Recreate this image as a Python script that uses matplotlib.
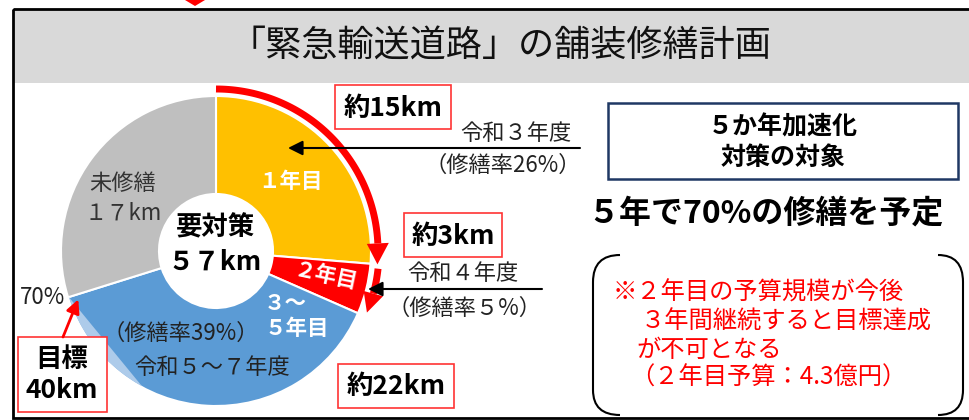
import numpy as np
import matplotlib.pyplot as plt
from matplotlib.patches import Rectangle, Polygon, PathPatch
from matplotlib.path import Path

plt.rcParams['font.family'] = ['Noto Sans CJK JP', 'DejaVu Sans']

# 緊急輸送道路 要対策区間の内訳 (km)
segments = ['１年目', '２年目', '３～\n５年目', '未修繕']
lengths = [15, 3, 22, 17]
colors = ['#FFC000', '#FF0000', '#5B9BD5', '#BFBFBF']
approx_labels = ['約15km', '約3km', '約22km']
year_labels = ['令和３年度', '令和４年度', '令和５～７年度']
rate_labels = ['（修繕率26%）', '（修繕率５%）', '（修繕率39%）']
rest_label = '未修繕\n１７km'
total_label = '要対策\n５７km'
target_rate = '70%'
target_label = '目標\n40km'
title = '「緊急輸送道路」の舗装修繕計画'
box_label = '５か年加速化\n対策の対象'
plan_label = '５年で70%の修繕を予定'
note_lines = ['※２年目の予算規模が今後', '３年間継続すると目標達成', 'が不可となる', '（２年目予算：4.3億円）']

fig = plt.figure(figsize=(9.69, 4.2), dpi=100)
ax = fig.add_axes([0, 0, 1, 1])

# 枠とタイトル帯
ax.add_patch(Rectangle((14, 10), 960, 73, fc='#D9D9D9', ec='none'))
ax.add_patch(Rectangle((13, 8.5), 1000, 409.5, fc='none', ec='black', lw=2))
ax.text(500, 46, title, ha='center', va='center', fontsize=26, color='#111111')
ax.add_patch(Polygon([(185, 0), (205, 0), (195, 6)], closed=True, fc='red', ec='none'))

# ドーナツ
cx, cy = 216, 251
R, r_in = 155, 57
ax.pie(lengths, colors=colors, radius=R, center=(cx, cy), startangle=-90,
       counterclock=True,
       wedgeprops=dict(width=R - r_in, edgecolor='white', linewidth=1.5))

total = sum(lengths)
cum = np.cumsum(lengths)
ends = 90 - 360 * cum / total   # 各区間の終端角度（画面上、度）


def pt(r, a):
    t = np.radians(a)
    return cx + r * np.cos(t), cy - r * np.sin(t)


def arc(r, a0, a1, n=80):
    t = np.radians(np.linspace(a0, a1, n))
    return cx + r * np.cos(t), cy - r * np.sin(t)


# 目標ライン付近の淡色部
a0, a1 = ends[2], ends[2] + 44
xs, ys = arc(R - 0.8, a0, a1)
ax.add_patch(Polygon(np.column_stack([xs, ys]), closed=True, fc='#ADCBEA', ec='none'))


def red_arc(r, a_start, a_tip, head_len=21, half_w=11, lw=5):
    da = np.degrees(head_len / r)
    xs, ys = arc(r, a_start, a_tip + da)
    ax.plot(xs, ys, color='red', lw=lw, solid_capstyle='butt')
    p1 = pt(r - half_w, a_tip + da)
    p2 = pt(r + half_w, a_tip + da)
    p3 = pt(r, a_tip)
    ax.add_patch(Polygon([p1, p2, p3], closed=True, fc='red', ec='none'))


red_arc(162, 90, ends[0])
red_arc(163, ends[0] - 1.5, ends[1] + 1.5, head_len=20, half_w=10)

# ドーナツ内ラベル
ax.text(290, 182, segments[0], ha='center', va='center', fontsize=15.5,
        color='white', fontweight='bold')
ax.text(326, 276, segments[1], ha='center', va='center', fontsize=15.5,
        color='white', fontweight='bold', rotation=-12)
ax.text(264, 316, segments[2], ha='left', va='center', fontsize=15.5,
        color='white', fontweight='bold', linespacing=1.25)
ax.text(123, 198, rest_label, ha='center', va='center', fontsize=16,
        color='#333333', linespacing=1.35)
ax.text(215, 245, total_label, ha='center', va='center', fontsize=19,
        color='black', fontweight='bold', linespacing=1.3)
ax.text(181, 333, rate_labels[2], ha='center', va='center', fontsize=16, color='#222222')
ax.text(212, 368, year_labels[2], ha='center', va='center', fontsize=16, color='#222222')

# 概数ラベル（赤枠）
for (x0, y0, w, h), s in zip([(335, 85, 116, 44), (404, 213, 98, 44), (338, 364, 116, 44)],
                             approx_labels):
    ax.add_patch(Rectangle((x0, y0), w, h, fc='white', ec='#FF3333', lw=1.2))
    ax.text(x0 + w / 2, y0 + h / 2 + 1, s, ha='center', va='center', fontsize=19,
            fontweight='bold', color='black')

# 年度・修繕率と指示線
ax.text(516, 133, year_labels[0], ha='center', va='center', fontsize=16, color='#222222')
ax.text(503, 165, rate_labels[0], ha='center', va='center', fontsize=16, color='#222222')
ax.annotate('', xy=(288, 148), xytext=(580, 148),
            arrowprops=dict(arrowstyle='-|>', color='black', lw=1.5,
                            mutation_scale=22, shrinkA=0, shrinkB=0))
ax.text(463, 274, year_labels[1], ha='center', va='center', fontsize=16, color='#222222')
ax.text(465, 308, rate_labels[1], ha='center', va='center', fontsize=16, color='#222222')
ax.annotate('', xy=(368, 289), xytext=(542, 289),
            arrowprops=dict(arrowstyle='-|>', color='black', lw=1.5,
                            mutation_scale=22, shrinkA=0, shrinkB=0))

# 目標
ax.text(43, 298, target_rate, ha='center', va='center', fontsize=16, color='#222222')
ax.add_patch(Rectangle((18, 337), 89, 75, fc='white', ec='#FF3333', lw=1.2))
ax.text(62, 375, target_label, ha='center', va='center', fontsize=19,
        fontweight='bold', color='black', linespacing=1.2)
ax.annotate('', xy=pt(R - 9, ends[2] + 2), xytext=(63, 337),
            arrowprops=dict(arrowstyle='-|>', color='red', lw=2,
                            mutation_scale=20, shrinkA=0, shrinkB=0))

# 右側
ax.add_patch(Rectangle((608, 103), 350, 76, fc='white', ec='#1F3864', lw=1.8))
ax.text(783, 143, box_label, ha='center', va='center', fontsize=18,
        fontweight='bold', color='black', linespacing=1.35)
ax.text(765, 213, plan_label, ha='center', va='center', fontsize=23,
        fontweight='bold', color='black')

left = Path([(620, 255), (593, 255), (593, 282), (593, 390), (593, 415), (620, 415)],
            [Path.MOVETO, Path.CURVE3, Path.CURVE3, Path.LINETO, Path.CURVE3, Path.CURVE3])
right = Path([(938, 255), (963, 255), (963, 282), (963, 390), (963, 415), (938, 415)],
             [Path.MOVETO, Path.CURVE3, Path.CURVE3, Path.LINETO, Path.CURVE3, Path.CURVE3])
for p in (left, right):
    ax.add_patch(PathPatch(p, fc='none', ec='black', lw=1.5))

for (x, y), s in zip([(613, 293), (641, 322), (636, 350), (630, 378)], note_lines):
    ax.text(x, y, s, ha='left', va='center', fontsize=17.5, color='#FF0000')

ax.set_xlim(0, 969)
ax.set_ylim(420, 0)
ax.set_aspect('auto')
ax.axis('off')

fig.savefig('out.png', dpi=100)
